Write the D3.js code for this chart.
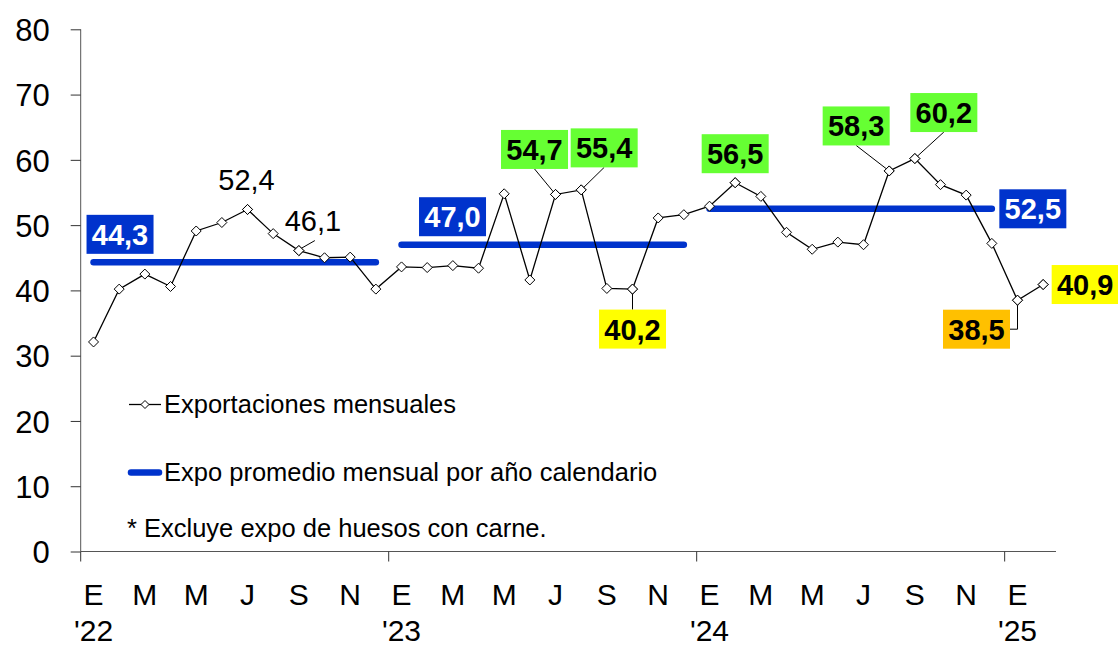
<!DOCTYPE html>
<html>
<head>
<meta charset="utf-8">
<script src="https://cdn.jsdelivr.net/npm/d3@7"></script>
<style>
  html, body { margin: 0; padding: 0; background: #fff; }
  svg { display: block; font-family: "Liberation Sans", Arial, Helvetica, sans-serif; }
</style>
</head>
<body>
<svg id="chart" width="1118" height="646"></svg>
<script>
// ---------------- DATA ----------------
const monthInitials = ["E","F","M","A","M","J","J","A","S","O","N","D"];
const yearLabels = ["'22","'23","'24","'25"];
const yTicks = [0,10,20,30,40,50,60,70,80];
// Exportaciones mensuales, Ene-2022 .. Feb-2025
const values = [
  32.1, 40.2, 42.5, 40.6, 49.1, 50.4, 52.4, 48.7, 46.1, 45.0, 45.1, 40.2,
  43.6, 43.5, 43.8, 43.4, 54.8, 41.6, 54.7, 55.4, 40.3, 40.2, 51.1, 51.6,
  52.9, 56.5, 54.4, 48.9, 46.3, 47.4, 47.0, 58.3, 60.2, 56.2, 54.6, 47.2,
  38.5, 40.9
];
// Promedio mensual por año calendario
const avgValues = [44.3, 47.0, 52.5];
const avgStartIdx = [0, 12, 24];
const avgEndIdx = [11, 23, 35];
// Callouts (index into values, kind)
const calloutIdx  = [6, 8, 18, 19, 21, 25, 31, 32, 36, 37];
const calloutKind = ["plain","plain","high","high","low","high","high","high","min","low"];
const seriesName = "Exportaciones mensuales";
const avgName = "Expo promedio mensual por año calendario";
const footnote = "* Excluye expo de huesos con carne.";

// ---------------- LAYOUT / STYLE ----------------
const W = 1118, H = 646;
const plotLeft = 80.7, plotRight = 1056, plotTop = 29.3, plotBottom = 551.5;
const blue = "#0033cc";
const kindFill = { high: "#66ff33", low: "#ffff00", min: "#ffc000", avg: blue };
const boxW = 67, boxH = 39;
// callout offsets (box/text center relative to point) and leader type
const calloutLayout = [
  { dx: -1,  dy: -19, leader: "none" },        // 52,4 (baseline offset)
  { dx: 14,  dy: -20, leader: "diag" },        // 46,1
  { dx: -21, dy: -45, leader: "box" },         // 54,7
  { dx: 23,  dy: -42, leader: "box" },         // 55,4
  { dx: 0,   dy: 40,  leader: "boxTop" },      // 40,2
  { dx: 0,   dy: -29, leader: "none" },        // 56,5
  { dx: -33, dy: -45, leader: "box" },         // 58,3
  { dx: 29,  dy: -46, leader: "box" },         // 60,2
  { dx: -41, dy: 29,  leader: "elbow" },       // 38,5
  { dx: 42,  dy: 0,   leader: "none" }         // 40,9
];
const avgLabelLayout = [
  { anchor: "start", dx: 26.5, dy: -28 },
  { anchor: "start", dx: 51,   dy: -28 },
  { anchor: "end",   dx: 41,   dy: 0 }
];

const fmt = v => d3.format(".1f")(v).replace(".", ",");

const svg = d3.select("#chart");

const x = d3.scaleBand()
  .domain(d3.range(values.length))
  .range([plotLeft, plotRight])
  .paddingInner(0).paddingOuter(0);
const cx = i => x(i) + x.bandwidth() / 2;
const y = d3.scaleLinear().domain([0, 80]).range([plotBottom, plotTop]);

// ---------------- AXES ----------------
const axisColor = "#555";
// y axis
const yAxis = d3.axisLeft(y).tickValues(yTicks).tickSize(10).tickPadding(21).tickFormat(d3.format("d"));
const gy = svg.append("g").attr("transform", `translate(${plotLeft},0)`).call(yAxis);
gy.select(".domain").attr("stroke", axisColor).attr("d", `M0,${plotTop}V${plotBottom}`);
gy.selectAll(".tick line").attr("stroke", "#333");
gy.selectAll(".tick text").attr("font-size", 31).attr("fill", "#000")
  .attr("font-family", "Liberation Sans, Arial, sans-serif").attr("dy", "0.36em");

// x axis line
svg.append("line").attr("x1", plotLeft).attr("x2", plotRight)
  .attr("y1", plotBottom).attr("y2", plotBottom).attr("stroke", axisColor).attr("stroke-width", 1);
// year boundary ticks
const yearStarts = d3.range(values.length).filter(i => i % 12 === 0);
svg.selectAll(".xtick").data(yearStarts).join("line")
  .attr("x1", i => x(i)).attr("x2", i => x(i))
  .attr("y1", plotBottom).attr("y2", plotBottom + 10)
  .attr("stroke", "#333");
// month labels every 2 months
const labIdx = d3.range(values.length).filter(i => i % 2 === 0);
svg.selectAll(".mlab").data(labIdx).join("text")
  .attr("x", i => cx(i)).attr("y", 605)
  .attr("text-anchor", "middle").attr("font-size", 30)
  .text(i => monthInitials[i % 12]);
svg.selectAll(".ylab").data(yearStarts).join("text")
  .attr("x", i => cx(i)).attr("y", 641)
  .attr("text-anchor", "middle").attr("font-size", 30)
  .text((i, k) => yearLabels[k]);

// ---------------- AVERAGE LINES ----------------
svg.selectAll(".avg").data(avgValues).join("line")
  .attr("x1", (d, k) => cx(avgStartIdx[k])).attr("x2", (d, k) => cx(avgEndIdx[k]))
  .attr("y1", d => y(d)).attr("y2", d => y(d))
  .attr("stroke", blue).attr("stroke-width", 6.5).attr("stroke-linecap", "round");

// ---------------- SERIES ----------------
const line = d3.line().x((d, i) => cx(i)).y(d => y(d));
svg.append("path").datum(values).attr("d", line)
  .attr("fill", "none").attr("stroke", "#000").attr("stroke-width", 1.3);
const diamond = (r) => `M0,${-r}L${r},0L0,${r}L${-r},0Z`;
svg.selectAll(".mk").data(values).join("path")
  .attr("transform", (d, i) => `translate(${cx(i)},${y(d)})`)
  .attr("d", diamond(5))
  .attr("fill", "#fff").attr("stroke", "#000").attr("stroke-width", 1);

// ---------------- CALLOUTS ----------------
calloutIdx.forEach((idx, k) => {
  const px = cx(idx), py = y(values[idx]);
  const L = calloutLayout[k];
  const kind = calloutKind[k];
  const bx = px + L.dx, by = py + L.dy;
  const g = svg.append("g");
  if (kind === "plain") {
    if (L.leader === "diag") {
      g.append("line").attr("x1", px + 2).attr("y1", py - 2)
        .attr("x2", px + 16).attr("y2", py - 10).attr("stroke", "#000").attr("stroke-width", 1);
    }
    g.append("text").attr("x", bx).attr("y", by)
      .attr("text-anchor", "middle").attr("font-size", 29).text(fmt(values[idx]));
    return;
  }
  // leaders
  if (L.leader === "box") {
    g.append("line").attr("x1", bx).attr("y1", by + boxH / 2)
      .attr("x2", px).attr("y2", py).attr("stroke", "#000").attr("stroke-width", 1);
  } else if (L.leader === "boxTop") {
    g.append("line").attr("x1", px).attr("y1", py)
      .attr("x2", px).attr("y2", by - boxH / 2).attr("stroke", "#000").attr("stroke-width", 1);
  } else if (L.leader === "elbow") {
    g.append("path").attr("d", `M${px},${py}V${by}H${bx + boxW / 2}`)
      .attr("fill", "none").attr("stroke", "#000").attr("stroke-width", 1);
  }
  g.append("rect").attr("x", bx - boxW / 2).attr("y", by - boxH / 2)
    .attr("width", boxW).attr("height", boxH).attr("fill", kindFill[kind]);
  g.append("text").attr("x", bx).attr("y", by + 10.5)
    .attr("text-anchor", "middle").attr("font-size", 29).attr("font-weight", "bold")
    .attr("fill", "#000").text(fmt(values[idx]));
});
// redraw markers of callout points on top of leaders
svg.selectAll(".mk2").data(calloutIdx).join("path")
  .attr("transform", i => `translate(${cx(i)},${y(values[i])})`)
  .attr("d", diamond(5))
  .attr("fill", "#fff").attr("stroke", "#000").attr("stroke-width", 1);

// average labels
avgValues.forEach((v, k) => {
  const L = avgLabelLayout[k];
  const ax = (L.anchor === "start" ? cx(avgStartIdx[k]) : cx(avgEndIdx[k])) + L.dx;
  const ay = y(v) + L.dy;
  svg.append("rect").attr("x", ax - boxW / 2).attr("y", ay - boxH / 2)
    .attr("width", boxW).attr("height", boxH).attr("fill", kindFill.avg);
  svg.append("text").attr("x", ax).attr("y", ay + 10.5)
    .attr("text-anchor", "middle").attr("font-size", 29).attr("font-weight", "bold")
    .attr("fill", "#fff").text(fmt(v));
});

// ---------------- LEGEND ----------------
const lg = svg.append("g");
lg.append("line").attr("x1", 129).attr("x2", 161).attr("y1", 404.5).attr("y2", 404.5)
  .attr("stroke", "#000").attr("stroke-width", 1.3);
lg.append("path").attr("transform", "translate(145,404.5)").attr("d", diamond(4))
  .attr("fill", "#fff").attr("stroke", "#000").attr("stroke-width", 1);
lg.append("text").attr("x", 164).attr("y", 413).attr("font-size", 25.5).text(seriesName);
lg.append("line").attr("x1", 131).attr("x2", 159).attr("y1", 472.5).attr("y2", 472.5)
  .attr("stroke", blue).attr("stroke-width", 6.5).attr("stroke-linecap", "round");
lg.append("text").attr("x", 164).attr("y", 481).attr("font-size", 25.5).text(avgName);
lg.append("text").attr("x", 127).attr("y", 537).attr("font-size", 25.5).text(footnote);
</script>
</body>
</html>
